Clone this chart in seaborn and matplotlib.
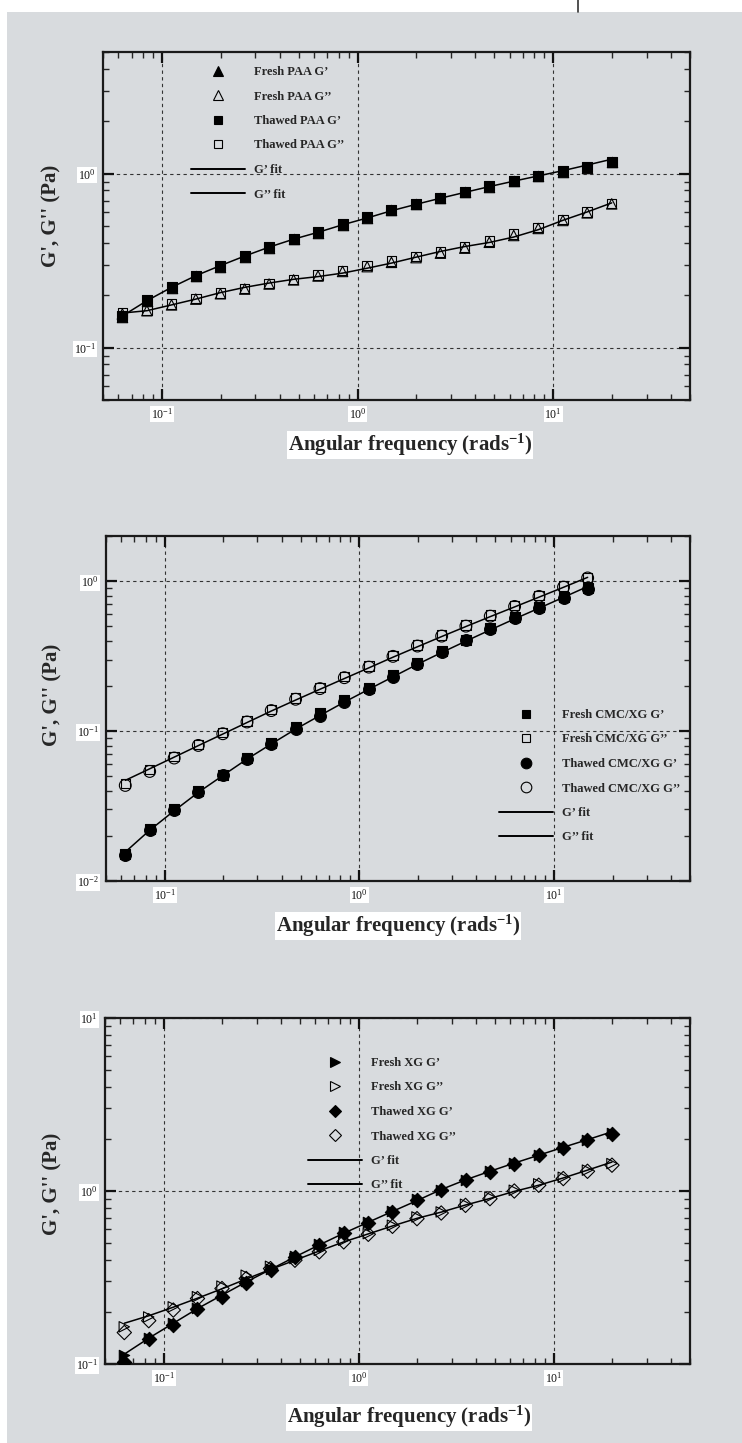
import matplotlib
matplotlib.use("Agg")
import matplotlib.pyplot as plt
import seaborn as sns
from matplotlib.lines import Line2D
from matplotlib.patches import Rectangle

sns.set_theme(style="ticks")
plt.rcParams["font.family"] = ["Liberation Serif", "DejaVu Serif"]
plt.rcParams["mathtext.fontset"] = "custom"
plt.rcParams["mathtext.rm"] = "Liberation Serif"
plt.rcParams["mathtext.bf"] = "Liberation Serif:bold"
plt.rcParams["mathtext.default"] = "regular"

BG = "#d8dbde"

# angular frequency (rad/s)
freq_paa = [0.0628, 0.0838, 0.112, 0.149, 0.199, 0.265, 0.353, 0.471, 0.628, 0.838,
            1.12, 1.49, 1.99, 2.65, 3.53, 4.71, 6.28, 8.38, 11.2, 14.9, 19.9]
freq_cmc = [0.0628, 0.0838, 0.112, 0.149, 0.199, 0.265, 0.353, 0.471, 0.628, 0.838,
            1.12, 1.49, 1.99, 2.65, 3.53, 4.71, 6.28, 8.38, 11.2, 14.9]
freq_xg = [0.0628, 0.0838, 0.112, 0.149, 0.199, 0.265, 0.353, 0.471, 0.628, 0.838,
           1.12, 1.49, 1.99, 2.65, 3.53, 4.71, 6.28, 8.38, 11.2, 14.9, 19.9]

# panel 1 - PAA
fresh_paa_g1 = [0.150, 0.186, 0.220, 0.257, 0.292, 0.333, 0.375, 0.419, 0.458, 0.509, 0.559,
                0.617, 0.668, 0.722, 0.779, 0.840, 0.902, 0.964, 1.02, 1.08, 1.16]
fresh_paa_g2 = [0.156, 0.163, 0.176, 0.190, 0.204, 0.217, 0.232, 0.245, 0.258, 0.274, 0.292,
                0.309, 0.329, 0.349, 0.373, 0.403, 0.441, 0.484, 0.538, 0.595, 0.670]
thawed_paa_g1 = [0.152, 0.188, 0.222, 0.259, 0.294, 0.336, 0.378, 0.422, 0.461, 0.513, 0.563,
                 0.621, 0.672, 0.727, 0.784, 0.845, 0.908, 0.970, 1.03, 1.09, 1.17]
thawed_paa_g2 = [0.158, 0.165, 0.178, 0.192, 0.206, 0.219, 0.234, 0.247, 0.261, 0.278, 0.297,
                 0.314, 0.334, 0.354, 0.378, 0.409, 0.449, 0.491, 0.546, 0.601, 0.675]
paa_g1_fit = [0.152, 0.186, 0.222, 0.259, 0.296, 0.336, 0.378, 0.420, 0.460, 0.508, 0.556,
              0.612, 0.666, 0.722, 0.780, 0.842, 0.905, 0.970, 1.04, 1.12, 1.21]
paa_g2_fit = [0.158, 0.163, 0.176, 0.190, 0.207, 0.222, 0.235, 0.247, 0.256, 0.268, 0.286,
              0.306, 0.331, 0.357, 0.381, 0.402, 0.432, 0.476, 0.539, 0.602, 0.679]

# panel 2 - CMC/XG
fresh_cmc_g1 = [0.0152, 0.0222, 0.0300, 0.0398, 0.0512, 0.0665, 0.0830, 0.106, 0.131, 0.160,
                0.195, 0.235, 0.285, 0.341, 0.408, 0.484, 0.575, 0.675, 0.782, 0.900]
fresh_cmc_g2 = [0.0446, 0.0552, 0.0675, 0.0815, 0.0975, 0.117, 0.139, 0.166, 0.195, 0.231,
                0.271, 0.320, 0.375, 0.437, 0.509, 0.593, 0.688, 0.802, 0.925, 1.06]
thawed_cmc_g1 = [0.0148, 0.0218, 0.0296, 0.0392, 0.0506, 0.0654, 0.0815, 0.104, 0.127, 0.156,
                 0.192, 0.231, 0.281, 0.336, 0.402, 0.476, 0.567, 0.664, 0.770, 0.889]
thawed_cmc_g2 = [0.0434, 0.0538, 0.0661, 0.0802, 0.0960, 0.115, 0.137, 0.163, 0.192, 0.227,
                 0.267, 0.315, 0.369, 0.430, 0.501, 0.584, 0.678, 0.791, 0.912, 1.05]
cmc_g1_fit = [0.0156, 0.0218, 0.0294, 0.0390, 0.0505, 0.0650, 0.0820, 0.103, 0.127, 0.156,
              0.190, 0.230, 0.279, 0.334, 0.398, 0.473, 0.560, 0.660, 0.780, 0.921]
cmc_g2_fit = [0.0469, 0.0560, 0.0670, 0.0800, 0.0955, 0.114, 0.136, 0.161, 0.190, 0.224,
              0.264, 0.311, 0.365, 0.427, 0.498, 0.580, 0.673, 0.782, 0.910, 1.06]

# panel 3 - XG
fresh_xg_g1 = [0.113, 0.142, 0.172, 0.210, 0.250, 0.300, 0.355, 0.420, 0.495, 0.580, 0.662,
               0.765, 0.900, 1.02, 1.16, 1.30, 1.45, 1.62, 1.80, 1.98, 2.16]
fresh_xg_g2 = [0.164, 0.187, 0.214, 0.245, 0.282, 0.326, 0.367, 0.407, 0.454, 0.519, 0.567,
               0.634, 0.708, 0.757, 0.838, 0.923, 1.01, 1.10, 1.20, 1.32, 1.44]
thawed_xg_g1 = [0.103, 0.139, 0.169, 0.207, 0.245, 0.295, 0.349, 0.416, 0.486, 0.573, 0.654,
                0.756, 0.891, 1.01, 1.15, 1.29, 1.44, 1.61, 1.78, 1.96, 2.14]
thawed_xg_g2 = [0.152, 0.178, 0.205, 0.239, 0.273, 0.312, 0.356, 0.398, 0.445, 0.508, 0.562,
                0.625, 0.692, 0.746, 0.826, 0.903, 1.00, 1.08, 1.18, 1.30, 1.41]
xg_g1_fit = [0.114, 0.141, 0.172, 0.209, 0.250, 0.298, 0.352, 0.416, 0.488, 0.570, 0.660,
             0.762, 0.880, 1.02, 1.16, 1.30, 1.45, 1.61, 1.79, 1.98, 2.20]
xg_g2_fit = [0.172, 0.190, 0.213, 0.240, 0.272, 0.310, 0.352, 0.398, 0.450, 0.508, 0.565,
             0.628, 0.695, 0.755, 0.830, 0.905, 0.995, 1.08, 1.19, 1.32, 1.47]

xticks = [0.1, 1, 10]
xtick_labels = ["10$^{-1}$", "10$^{0}$", "10$^{1}$"]
fit_labels = ["G\u2019 fit", "G\u2019\u2019 fit"]

W, H = 742, 1443


def px_rect(left, top, right, bottom):
    return [left / W, 1 - bottom / H, (right - left) / W, (bottom - top) / H]


def draw_panel(ax, freq, series, fits, ylim, yticks, ytick_labels,
               leg_anchor, ylab_pos, xlab_pos):
    ax.set_facecolor(BG)
    ax.set_xscale("log")
    ax.set_yscale("log")
    for vals in fits:
        sns.lineplot(x=freq, y=vals, color="black", linewidth=1.1, ax=ax, zorder=2)
    handles = []
    for label, vals, marker, filled, size in series:
        sns.scatterplot(x=freq, y=vals, marker=marker, s=size ** 2,
                        color="black", edgecolor="black",
                        facecolor="black" if filled else "none",
                        linewidth=0.8, ax=ax, zorder=3)
        handles.append(Line2D([], [], marker=marker, linestyle="none", markersize=size * 0.9,
                              markeredgecolor="black", markeredgewidth=0.8,
                              markerfacecolor="black" if filled else "none", label=label))
    for lab in fit_labels:
        handles.append(Line2D([], [], color="black", linewidth=1.4, label=lab))

    ax.set_xlim(0.05, 50)
    ax.set_ylim(*ylim)
    ax.set_xticks(xticks, xtick_labels)
    ax.set_yticks(yticks, ytick_labels)
    ax.tick_params(which="major", direction="in", length=8, width=1.6,
                   top=True, right=True, labelsize=8.5, colors="#111111", pad=5)
    ax.tick_params(which="minor", direction="in", length=4, width=1.0,
                   top=True, right=True)
    for lbl in ax.get_xticklabels() + ax.get_yticklabels():
        lbl.set_bbox(dict(facecolor="white", edgecolor="none", pad=0.6))
    ax.grid(which="major", linestyle=(0, (3, 3)), color="#333333", linewidth=0.8)
    ax.grid(which="minor", visible=False)
    for sp in ax.spines.values():
        sp.set_linewidth(1.6)
        sp.set_color("#1a1a1a")

    ax.set_xlabel("Angular frequency (rads$^{-1}$)", fontsize=15, fontweight="bold",
                  bbox=dict(facecolor="white", edgecolor="none", pad=0.5))
    ax.xaxis.set_label_coords(*xlab_pos)
    ax.set_ylabel("G', G'' (Pa)", fontsize=15, fontweight="bold")
    ax.yaxis.set_label_coords(*ylab_pos)

    ax.legend(handles=handles, loc="upper left", bbox_to_anchor=leg_anchor,
              frameon=False, borderpad=0, borderaxespad=0, handlelength=4.3,
              handletextpad=0.72, labelspacing=1.0, numpoints=1,
              prop=dict(size=9, weight="bold"))


fig = plt.figure(figsize=(W / 100, H / 100), dpi=100)
fig.patch.set_facecolor(BG)
# white margins at the top and left of the scanned page
fig.patches.append(Rectangle((0, 1 - 12 / H), 1, 12 / H, transform=fig.transFigure,
                             facecolor="white", edgecolor="none"))
fig.patches.append(Rectangle((0, 0), 7 / W, 1, transform=fig.transFigure,
                             facecolor="white", edgecolor="none"))
fig.lines.append(Line2D([578 / W, 578 / W], [1, 1 - 12 / H], transform=fig.transFigure,
                        color="#333333", linewidth=1.2))

ax1 = fig.add_axes(px_rect(103, 52, 690, 400))
draw_panel(ax1, freq_paa,
           [("Fresh PAA G\u2019", fresh_paa_g1, "^", True, 7.5),
            ("Fresh PAA G\u2019\u2019", fresh_paa_g2, "^", False, 7.5),
            ("Thawed PAA G\u2019", thawed_paa_g1, "s", True, 6.8),
            ("Thawed PAA G\u2019\u2019", thawed_paa_g2, "s", False, 6.8)],
           [paa_g1_fit, paa_g2_fit], (0.05, 5), [0.1, 1], ["10$^{-1}$", "10$^{0}$"],
           ((191 - 103) / 587, (400 - 66) / 348), (-0.070, 0.53), (0.523, -0.092))

ax2 = fig.add_axes(px_rect(106, 536, 690, 881))
draw_panel(ax2, freq_cmc,
           [("Fresh CMC/XG G\u2019", fresh_cmc_g1, "s", True, 6.8),
            ("Fresh CMC/XG G\u2019\u2019", fresh_cmc_g2, "s", False, 6.8),
            ("Thawed CMC/XG G\u2019", thawed_cmc_g1, "o", True, 8.5),
            ("Thawed CMC/XG G\u2019\u2019", thawed_cmc_g2, "o", False, 8.5)],
           [cmc_g1_fit, cmc_g2_fit], (0.01, 2), [0.01, 0.1, 1],
           ["10$^{-2}$", "10$^{-1}$", "10$^{0}$"],
           ((499 - 106) / 584, (881 - 709) / 345), (-0.075, 0.54), (0.50, -0.093))

ax3 = fig.add_axes(px_rect(105, 1018, 690, 1364))
draw_panel(ax3, freq_xg,
           [("Fresh XG G\u2019", fresh_xg_g1, ">", True, 7.5),
            ("Fresh XG G\u2019\u2019", fresh_xg_g2, ">", False, 7.5),
            ("Thawed XG G\u2019", thawed_xg_g1, "D", True, 7.3),
            ("Thawed XG G\u2019\u2019", thawed_xg_g2, "D", False, 7.3)],
           [xg_g1_fit, xg_g2_fit], (0.1, 10), [0.1, 1, 10],
           ["10$^{-1}$", "10$^{0}$", "10$^{1}$"],
           ((308 - 105) / 585, (1364 - 1057) / 346), (-0.073, 0.52), (0.52, -0.116))

fig.savefig("out.png", dpi=100, facecolor=BG)
